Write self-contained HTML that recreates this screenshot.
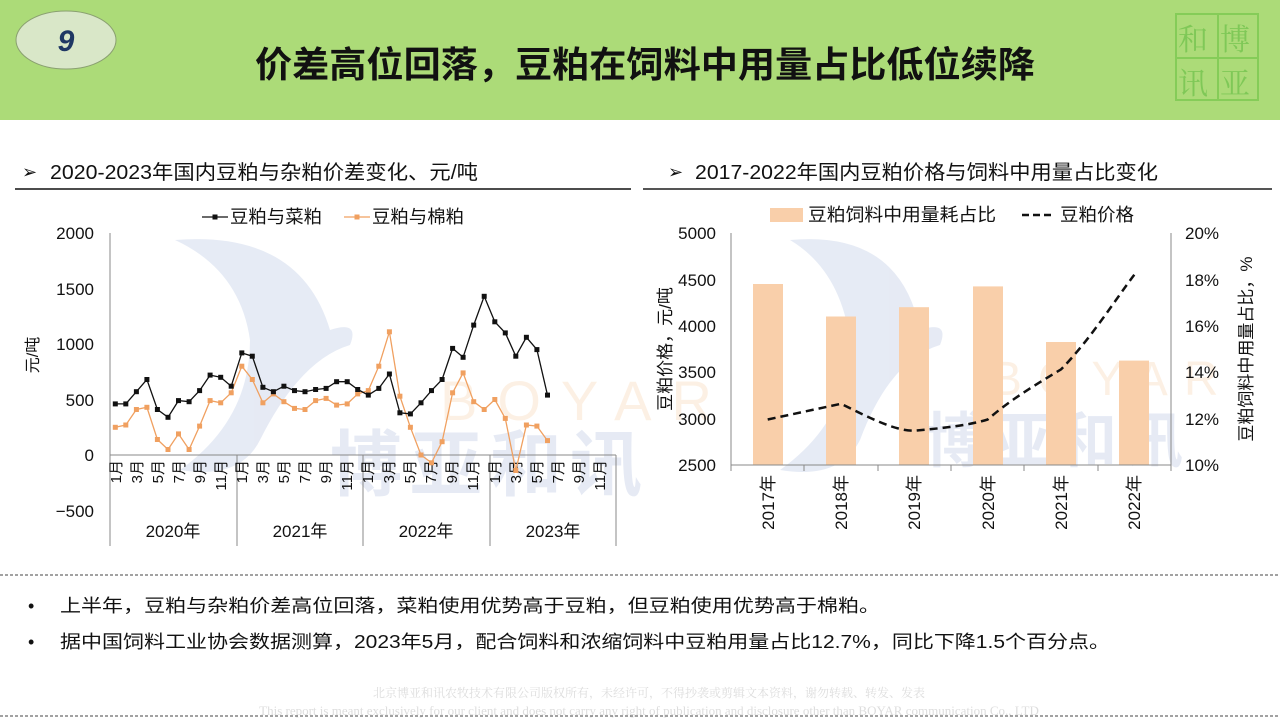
<!DOCTYPE html>
<html><head><meta charset="utf-8"><style>
body{margin:0;width:1280px;height:720px;overflow:hidden;background:#fff;font-family:"Liberation Sans","Noto Sans CJK SC",sans-serif;}
</style></head><body>
<svg width="1280" height="720" xmlns="http://www.w3.org/2000/svg" font-family="Liberation Sans, Noto Sans CJK SC, sans-serif">
<rect x="0" y="0" width="1280" height="120" fill="#acdb78"/>
<ellipse cx="66" cy="40" rx="50" ry="29" fill="#d9e7c8" stroke="#8aa070" stroke-width="1"/>
<text x="66" y="51" font-size="30" font-weight="bold" font-style="italic" fill="#1f3864" text-anchor="middle">9</text>
<text x="255" y="77" font-size="36" fill="#111" font-weight="bold" textLength="780" lengthAdjust="spacingAndGlyphs">价差高位回落，豆粕在饲料中用量占比低位续降</text>
<g opacity="0.5" fill="none" stroke="#5fbf3a" stroke-width="2"><rect x="1176" y="14" width="82" height="86"/><line x1="1218" y1="14" x2="1218" y2="100"/><line x1="1176" y1="58" x2="1258" y2="58"/></g>
<g font-size="30" fill="#6cc04a" opacity="0.7" font-family="Noto Serif CJK SC, serif"><text x="1178" y="50">和</text><text x="1220" y="50">博</text><text x="1178" y="94">讯</text><text x="1220" y="94">亚</text></g>

<text x="22" y="178" font-size="18" fill="#111">➢</text>
<text x="50" y="179" font-size="20" fill="#111" textLength="428" lengthAdjust="spacingAndGlyphs">2020-2023年国内豆粕与杂粕价差变化、元/吨</text>
<line x1="15" y1="189" x2="631" y2="189" stroke="#111" stroke-width="1.5"/>
<text x="668" y="178" font-size="18" fill="#111">➢</text>
<text x="695" y="179" font-size="20" fill="#111" textLength="463" lengthAdjust="spacingAndGlyphs">2017-2022年国内豆粕价格与饲料中用量占比变化</text>
<line x1="643" y1="189" x2="1272" y2="189" stroke="#555" stroke-width="2"/>

<!-- watermarks -->
<g opacity="0.22">
<path d="M175 240 Q300 230 330 330 Q360 320 350 345 Q300 360 260 440 Q240 480 180 470 Q250 420 250 340 Q240 270 175 240Z" fill="#8fa3d2"/>
<text x="330" y="490" font-size="72" font-weight="bold" fill="#8fa3d2" letter-spacing="8">博亚和讯</text>
<text x="440" y="420" font-size="56" fill="#f5c08a" letter-spacing="20">BOYAR</text>
<path d="M790 240 Q900 230 920 330 Q950 320 940 345 Q890 360 860 440 Q840 480 780 470 Q850 420 850 340 Q840 270 790 240Z" fill="#8fa3d2"/>
<text x="925" y="462" font-size="60" font-weight="bold" fill="#8fa3d2" letter-spacing="6">博亚和讯</text>
<text x="990" y="395" font-size="48" fill="#f5c08a" letter-spacing="16">BOYAR</text>
</g>

<!-- LEFT CHART -->
<g font-size="17" fill="#111" text-anchor="end">
<text x="94" y="239">2000</text><text x="94" y="295">1500</text><text x="94" y="350">1000</text><text x="94" y="406">500</text><text x="94" y="461">0</text><text x="94" y="517">−500</text>
</g>
<text transform="translate(38,355) rotate(-90)" font-size="16" fill="#111" text-anchor="middle">元/吨</text>
<line x1="110" y1="233" x2="110" y2="546" stroke="#888"/>
<line x1="110" y1="455" x2="616" y2="455" stroke="#888"/>
<g stroke="#888"><line x1="237" y1="455" x2="237" y2="546"/><line x1="363" y1="455" x2="363" y2="546"/><line x1="490" y1="455" x2="490" y2="546"/><line x1="616" y1="455" x2="616" y2="546"/></g>
<g font-size="17" fill="#111" text-anchor="middle"><text x="173" y="537">2020年</text><text x="300" y="537">2021年</text><text x="426" y="537">2022年</text><text x="553" y="537">2023年</text></g>
<g font-size="15" fill="#111" text-anchor="end">
<text transform="translate(121,460) rotate(-90)">1月</text><text transform="translate(142,460) rotate(-90)">3月</text><text transform="translate(163,460) rotate(-90)">5月</text><text transform="translate(184,460) rotate(-90)">7月</text><text transform="translate(205,460) rotate(-90)">9月</text><text transform="translate(226,460) rotate(-90)">11月</text>
<text transform="translate(247,460) rotate(-90)">1月</text><text transform="translate(268,460) rotate(-90)">3月</text><text transform="translate(289,460) rotate(-90)">5月</text><text transform="translate(310,460) rotate(-90)">7月</text><text transform="translate(331,460) rotate(-90)">9月</text><text transform="translate(352,460) rotate(-90)">11月</text>
<text transform="translate(373,460) rotate(-90)">1月</text><text transform="translate(394,460) rotate(-90)">3月</text><text transform="translate(415,460) rotate(-90)">5月</text><text transform="translate(436,460) rotate(-90)">7月</text><text transform="translate(457,460) rotate(-90)">9月</text><text transform="translate(478,460) rotate(-90)">11月</text>
<text transform="translate(500,460) rotate(-90)">1月</text><text transform="translate(521,460) rotate(-90)">3月</text><text transform="translate(542,460) rotate(-90)">5月</text><text transform="translate(563,460) rotate(-90)">7月</text><text transform="translate(584,460) rotate(-90)">9月</text><text transform="translate(605,460) rotate(-90)">11月</text>
</g>
<polyline fill="none" stroke="#f0a060" stroke-width="1.3" points="115.3,427.3 125.8,425 136.4,409.5 146.9,407.3 157.4,439.5 168,449.5 178.5,433.9 189.1,449.5 199.6,426.1 210.1,400.6 220.7,402.8 231.2,392.8 241.8,366.2 252.3,379.5 262.9,402.8 273.4,393.9 283.9,401.7 294.5,408.4 305,409.5 315.6,400.6 326.1,398.4 336.6,405.1 347.2,403.9 357.7,393.9 368.3,390.6 378.8,366.2 389.4,331.8 399.9,396.2 410.4,427.3 421,455 431.5,462.8 442.1,441.7 452.6,392.8 463.1,372.9 473.7,401.7 484.2,409.5 494.8,399.5 505.3,418.4 515.8,470.5 526.4,425 536.9,426.1 547.5,440.6"/>
<g fill="#f0a060">
<rect x="112.8" y="424.8" width="5" height="5"/><rect x="123.3" y="422.5" width="5" height="5"/><rect x="133.9" y="407" width="5" height="5"/><rect x="144.4" y="404.8" width="5" height="5"/><rect x="154.9" y="437" width="5" height="5"/><rect x="165.5" y="447" width="5" height="5"/><rect x="176" y="431.4" width="5" height="5"/><rect x="186.6" y="447" width="5" height="5"/><rect x="197.1" y="423.6" width="5" height="5"/><rect x="207.6" y="398.1" width="5" height="5"/><rect x="218.2" y="400.3" width="5" height="5"/><rect x="228.7" y="390.3" width="5" height="5"/>
<rect x="239.3" y="363.7" width="5" height="5"/><rect x="249.8" y="377" width="5" height="5"/><rect x="260.4" y="400.3" width="5" height="5"/><rect x="270.9" y="391.4" width="5" height="5"/><rect x="281.4" y="399.2" width="5" height="5"/><rect x="292" y="405.9" width="5" height="5"/><rect x="302.5" y="407" width="5" height="5"/><rect x="313.1" y="398.1" width="5" height="5"/><rect x="323.6" y="395.9" width="5" height="5"/><rect x="334.1" y="402.6" width="5" height="5"/><rect x="344.7" y="401.4" width="5" height="5"/><rect x="355.2" y="391.4" width="5" height="5"/>
<rect x="365.8" y="388.1" width="5" height="5"/><rect x="376.3" y="363.7" width="5" height="5"/><rect x="386.9" y="329.3" width="5" height="5"/><rect x="397.4" y="393.7" width="5" height="5"/><rect x="407.9" y="424.8" width="5" height="5"/><rect x="418.5" y="452.5" width="5" height="5"/><rect x="429" y="460.3" width="5" height="5"/><rect x="439.6" y="439.2" width="5" height="5"/><rect x="450.1" y="390.3" width="5" height="5"/><rect x="460.6" y="370.4" width="5" height="5"/><rect x="471.2" y="399.2" width="5" height="5"/><rect x="481.7" y="407" width="5" height="5"/>
<rect x="492.3" y="397" width="5" height="5"/><rect x="502.8" y="415.9" width="5" height="5"/><rect x="513.3" y="468" width="5" height="5"/><rect x="523.9" y="422.5" width="5" height="5"/><rect x="534.4" y="423.6" width="5" height="5"/><rect x="545" y="438.1" width="5" height="5"/>
</g>
<polyline fill="none" stroke="#111" stroke-width="1.3" points="115.3,403.9 125.8,403.9 136.4,391.7 146.9,379.5 157.4,409.5 168,417.3 178.5,400.6 189.1,401.7 199.6,390.6 210.1,375.1 220.7,377.3 231.2,386.2 241.8,352.9 252.3,356.2 262.9,387.3 273.4,391.7 283.9,386.2 294.5,390.6 305,391.7 315.6,389.5 326.1,388.4 336.6,381.7 347.2,381.7 357.7,389.5 368.3,395.1 378.8,388.4 389.4,374 399.9,412.8 410.4,413.9 421,402.8 431.5,390.6 442.1,379.5 452.6,348.4 463.1,357.3 473.7,325.1 484.2,296.3 494.8,321.8 505.3,332.9 515.8,356.2 526.4,337.3 536.9,349.6 547.5,395.1"/>
<g fill="#111">
<rect x="112.8" y="401.4" width="5" height="5"/><rect x="123.3" y="401.4" width="5" height="5"/><rect x="133.9" y="389.2" width="5" height="5"/><rect x="144.4" y="377" width="5" height="5"/><rect x="154.9" y="407" width="5" height="5"/><rect x="165.5" y="414.8" width="5" height="5"/><rect x="176" y="398.1" width="5" height="5"/><rect x="186.6" y="399.2" width="5" height="5"/><rect x="197.1" y="388.1" width="5" height="5"/><rect x="207.6" y="372.6" width="5" height="5"/><rect x="218.2" y="374.8" width="5" height="5"/><rect x="228.7" y="383.7" width="5" height="5"/>
<rect x="239.3" y="350.4" width="5" height="5"/><rect x="249.8" y="353.7" width="5" height="5"/><rect x="260.4" y="384.8" width="5" height="5"/><rect x="270.9" y="389.2" width="5" height="5"/><rect x="281.4" y="383.7" width="5" height="5"/><rect x="292" y="388.1" width="5" height="5"/><rect x="302.5" y="389.2" width="5" height="5"/><rect x="313.1" y="387" width="5" height="5"/><rect x="323.6" y="385.9" width="5" height="5"/><rect x="334.1" y="379.2" width="5" height="5"/><rect x="344.7" y="379.2" width="5" height="5"/><rect x="355.2" y="387" width="5" height="5"/>
<rect x="365.8" y="392.6" width="5" height="5"/><rect x="376.3" y="385.9" width="5" height="5"/><rect x="386.9" y="371.5" width="5" height="5"/><rect x="397.4" y="410.3" width="5" height="5"/><rect x="407.9" y="411.4" width="5" height="5"/><rect x="418.5" y="400.3" width="5" height="5"/><rect x="429" y="388.1" width="5" height="5"/><rect x="439.6" y="377" width="5" height="5"/><rect x="450.1" y="345.9" width="5" height="5"/><rect x="460.6" y="354.8" width="5" height="5"/><rect x="471.2" y="322.6" width="5" height="5"/><rect x="481.7" y="293.8" width="5" height="5"/>
<rect x="492.3" y="319.3" width="5" height="5"/><rect x="502.8" y="330.4" width="5" height="5"/><rect x="513.3" y="353.7" width="5" height="5"/><rect x="523.9" y="334.8" width="5" height="5"/><rect x="534.4" y="347.1" width="5" height="5"/><rect x="545" y="392.6" width="5" height="5"/>
</g>
<line x1="202" y1="217" x2="228" y2="217" stroke="#111" stroke-width="1.3"/><rect x="212.5" y="214.5" width="5" height="5" fill="#111"/>
<text x="230" y="223" font-size="18" fill="#111" textLength="92" lengthAdjust="spacingAndGlyphs">豆粕与菜粕</text>
<line x1="344" y1="217" x2="370" y2="217" stroke="#f0a060" stroke-width="1.3"/><rect x="354.5" y="214.5" width="5" height="5" fill="#f0a060"/>
<text x="372" y="223" font-size="18" fill="#111" textLength="92" lengthAdjust="spacingAndGlyphs">豆粕与棉粕</text>

<!-- RIGHT CHART -->
<g fill="#f9cfaa">
<rect x="753" y="284" width="30" height="181"/><rect x="826" y="316.5" width="30" height="148.5"/><rect x="899" y="307.2" width="30" height="157.8"/><rect x="973" y="286.4" width="30" height="178.6"/><rect x="1046" y="342" width="30" height="123"/><rect x="1119" y="360.6" width="30" height="104.4"/>
</g>
<line x1="731" y1="233" x2="731" y2="465" stroke="#888"/>
<line x1="1171" y1="233" x2="1171" y2="465" stroke="#888"/>
<line x1="731" y1="465" x2="1171" y2="465" stroke="#888"/>
<g stroke="#888"><line x1="731" y1="465" x2="731" y2="471"/><line x1="804" y1="465" x2="804" y2="471"/><line x1="878" y1="465" x2="878" y2="471"/><line x1="951" y1="465" x2="951" y2="471"/><line x1="1024" y1="465" x2="1024" y2="471"/><line x1="1098" y1="465" x2="1098" y2="471"/><line x1="1171" y1="465" x2="1171" y2="471"/></g>
<path d="M767.7,419.5 L841,403.8 C870,418 895,431 914.3,430.7 C945,428 970,425 987.7,419.5 C1010,400 1035,385 1061,369.4 C1090,340 1115,300 1134.3,274.8" fill="none" stroke="#111" stroke-width="2.5" stroke-dasharray="8,5"/>
<g font-size="17" fill="#111" text-anchor="end">
<text x="716" y="239">5000</text><text x="716" y="286">4500</text><text x="716" y="332">4000</text><text x="716" y="378">3500</text><text x="716" y="425">3000</text><text x="716" y="471">2500</text>
</g>
<g font-size="17" fill="#111" text-anchor="start">
<text x="1185" y="239">20%</text><text x="1185" y="286">18%</text><text x="1185" y="332">16%</text><text x="1185" y="378">14%</text><text x="1185" y="425">12%</text><text x="1185" y="471">10%</text>
</g>
<text transform="translate(671,349) rotate(-90)" font-size="17" fill="#111" text-anchor="middle">豆粕价格，元/吨</text>
<text transform="translate(1252,349) rotate(-90)" font-size="17" fill="#111" text-anchor="middle">豆粕饲料中用量占比，%</text>
<g font-size="17" fill="#111" text-anchor="end">
<text transform="translate(774,475) rotate(-90)">2017年</text><text transform="translate(847,475) rotate(-90)">2018年</text><text transform="translate(920,475) rotate(-90)">2019年</text><text transform="translate(994,475) rotate(-90)">2020年</text><text transform="translate(1067,475) rotate(-90)">2021年</text><text transform="translate(1140,475) rotate(-90)">2022年</text>
</g>
<rect x="770" y="208" width="33" height="14" fill="#f9cfaa"/>
<text x="808" y="221" font-size="18" fill="#111" textLength="188" lengthAdjust="spacingAndGlyphs">豆粕饲料中用量耗占比</text>
<line x1="1022" y1="215" x2="1053" y2="215" stroke="#111" stroke-width="2.5" stroke-dasharray="7,4"/>
<text x="1060" y="221" font-size="18" fill="#111" textLength="74" lengthAdjust="spacingAndGlyphs">豆粕价格</text>

<!-- bottom -->
<line x1="0" y1="575" x2="1280" y2="575" stroke="#444" stroke-dasharray="3,2"/>
<g font-size="18" fill="#111">
<text x="28" y="612">•</text><text x="60" y="612" textLength="820" lengthAdjust="spacingAndGlyphs">上半年，豆粕与杂粕价差高位回落，菜粕使用优势高于豆粕，但豆粕使用优势高于棉粕。</text>
<text x="28" y="648">•</text><text x="60" y="648" textLength="1050" lengthAdjust="spacingAndGlyphs">据中国饲料工业协会数据测算，2023年5月，配合饲料和浓缩饲料中豆粕用量占比12.7%，同比下降1.5个百分点。</text>
</g>
<text x="649" y="697" font-size="12" fill="#ddd" text-anchor="middle" font-family="Noto Serif CJK SC, serif">北京博亚和讯农牧技术有限公司版权所有，未经许可，不得抄袭或剪辑文本资料，谢勿转载、转发、发表</text>
<text x="649" y="715" font-size="13" fill="#ddd" text-anchor="middle" font-family="Liberation Serif, serif">This report is meant exclusively for our client and does not carry any right of publication and disclosure other than BOYAR communication Co., LTD</text>
<line x1="0" y1="716" x2="1280" y2="716" stroke="#444" stroke-dasharray="3,2"/>
</svg>
</body></html>
